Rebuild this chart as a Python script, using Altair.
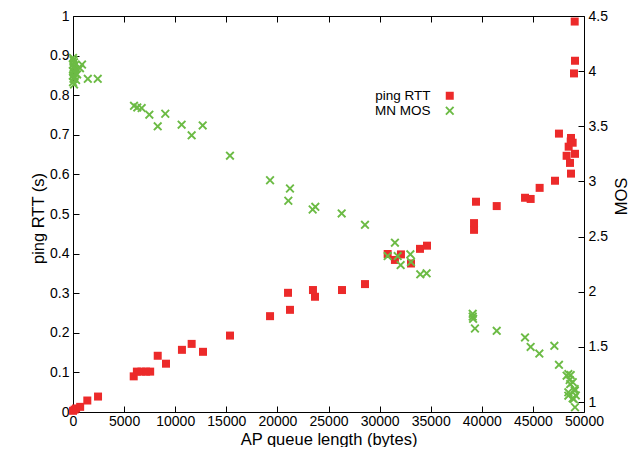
import altair as alt
import pandas as pd

# ping RTT (s) vs AP queue length (bytes)
rtt_x = [0, 150, 300, 700, 1400, 2450,
         5940, 6250, 6700, 7150, 7550, 8290, 9100, 10660, 11610, 12720, 15360,
         19280, 21040, 21230, 23480, 23680, 26320, 28570,
         30790, 31500, 32090, 33070, 33950, 34640,
         39240, 39240, 39430, 41460, 44230, 44780, 45660, 47160,
         48730, 48630, 48300, 49120, 48500, 48700, 48890, 48730, 47550,
         49020, 49120, 49090]
rtt_y = [0.003, 0.006, 0.009, 0.013, 0.029, 0.039,
         0.090, 0.102, 0.102, 0.102, 0.102, 0.142, 0.122, 0.157, 0.172, 0.152, 0.193,
         0.242, 0.301, 0.258, 0.308, 0.291, 0.308, 0.323,
         0.399, 0.384, 0.398, 0.375, 0.412, 0.420,
         0.460, 0.477, 0.531, 0.520, 0.541, 0.538, 0.566, 0.584,
         0.602, 0.629, 0.647, 0.652, 0.670, 0.683, 0.680, 0.692, 0.703,
         0.855, 0.887, 0.986]

# MN MOS vs AP queue length (bytes)
mos_x = [0, 50, 100, 0, 150, 50, 200, 0, 100, 250, 0, 150, 50, 300, 0, 100,
         400, 685, 880, 1450, 2420,
         5970, 6290, 6720, 7470, 8290, 9030, 10630, 11610, 12690, 15360,
         19280, 21230, 21070, 23450, 23710, 26290, 28570,
         31500, 30790, 31770, 32060, 33010, 33070, 33980, 34600,
         39110, 39110, 39150, 39330, 41460, 44230, 44780, 45630, 47100, 47550,
         48300, 48700, 48470, 48600, 48650, 48900, 48470, 49100, 49090, 48890,
         48470, 49000, 49120, 49200]
mos_y = [4.12, 4.10, 4.08, 4.06, 4.05, 4.03, 4.02, 4.00, 3.99, 3.98, 3.96, 3.95,
         3.93, 3.92, 3.90, 3.88,
         3.97, 4.027, 4.06, 3.93, 3.93,
         3.686, 3.671, 3.665, 3.605, 3.50, 3.614, 3.515, 3.418, 3.508, 3.234,
         3.011, 2.936, 2.825, 2.746, 2.77, 2.71, 2.607,
         2.445, 2.324, 2.324, 2.242, 2.339, 2.27, 2.158, 2.167,
         1.80, 1.775, 1.755, 1.667, 1.646, 1.586, 1.50, 1.44, 1.51, 1.338,
         1.239, 1.245, 1.254, 1.20, 1.163, 1.18, 1.088, 1.103, 1.118, 1.034,
         1.058, 1.028, 0.953, 1.06]

series = ["ping RTT", "MN MOS"]
colors = ["#ec2a2a", "#6cbb45"]
x_ticks = list(range(0, 50001, 5000))
rtt_ticks = [i / 10 for i in range(11)]
mos_ticks = [1, 1.5, 2, 2.5, 3, 3.5, 4, 4.5]

XPATH = ("M-1,-0.7L-0.7,-1L0,-0.3L0.7,-1L1,-0.7L0.3,0L1,0.7L0.7,1L0,0.3"
         "L-0.7,1L-1,0.7L-0.3,0Z")

df_rtt = pd.DataFrame({"q": rtt_x, "v": rtt_y, "s": series[0]})
df_mos = pd.DataFrame({"q": mos_x, "v": mos_y, "s": series[1]})

FONT = "Liberation Sans"

color = alt.Color("s:N", scale=alt.Scale(domain=series, range=colors),
                  legend=alt.Legend(title=None, orient="none", legendX=370, legendY=73,
                                    labelAlign="right", labelOffset={"expr": "-26"},
                                    padding=0, rowPadding=0, labelFontSize=13.5,
                                    labelFont=FONT, symbolStrokeWidth=0,
                                    labelColor="black"))
shape = alt.Shape("s:N", scale=alt.Scale(domain=series, range=["square", XPATH]),
                  legend=None)

size_scale = alt.Size("s:N", scale=alt.Scale(domain=series, range=[64, 81]), legend=None)

common_axis = dict(grid=False, domain=False, tickColor="black", tickWidth=1,
                   labelColor="black", labelFont=FONT, labelFontSize=14,
                   titleFont=FONT, titleFontSize=16.5, titleFontWeight="normal",
                   titleColor="black", offset=-6, tickSize=6)

x_bottom = alt.X("q:Q", scale=alt.Scale(domain=[0, 50000], nice=False, zero=False),
                 axis=alt.Axis(values=x_ticks, format="d", title="AP queue length (bytes)",
                               labelPadding=2, titleY=38, titleBaseline="alphabetic",
                               labelFlush=False, **common_axis))
x_top = alt.X("q:Q", scale=alt.Scale(domain=[0, 50000], nice=False, zero=False),
              axis=alt.Axis(values=x_ticks, orient="top", labels=False, title=None,
                            grid=False, domain=False, tickColor="black", tickWidth=1,
                            offset=-6, tickSize=6))

red = alt.Chart(df_rtt).mark_point(filled=True, opacity=1, strokeWidth=0).encode(
    x=x_bottom,
    y=alt.Y("v:Q", scale=alt.Scale(domain=[0, 1], nice=False),
            axis=alt.Axis(values=rtt_ticks, format="~g", title="ping RTT (s)",
                          labelPadding=4, titleX=-41, titleY=202, titleAngle=270,
                          titleBaseline="middle", labelFlush=False, **common_axis)),
    color=color, shape=shape, size=size_scale,
)

green = alt.Chart(df_mos).mark_point(filled=True, opacity=1, strokeWidth=0).encode(
    x=x_top,
    y=alt.Y("v:Q", scale=alt.Scale(domain=[0.91, 4.5], nice=False, zero=False),
            axis=alt.Axis(values=mos_ticks, format="~g", title="MOS", orient="right",
                          labelPadding=4, titleX=43, titleY=180, titleAngle=270,
                          titleBaseline="middle", labelFlush=False, **common_axis)),
    color=color, shape=shape, size=size_scale,
)

chart = alt.layer(red, green).resolve_scale(y="independent").resolve_axis(
    x="independent", y="independent"
).properties(
    width=511, height=396,
    autosize=alt.AutoSizeParams(type="none"),
    padding={"left": 65, "top": 8, "right": 47, "bottom": 35},
    background="white",
).configure_view(stroke="black", strokeWidth=1)

chart.save("out.html", embed_options={"renderer": "svg", "actions": False})
